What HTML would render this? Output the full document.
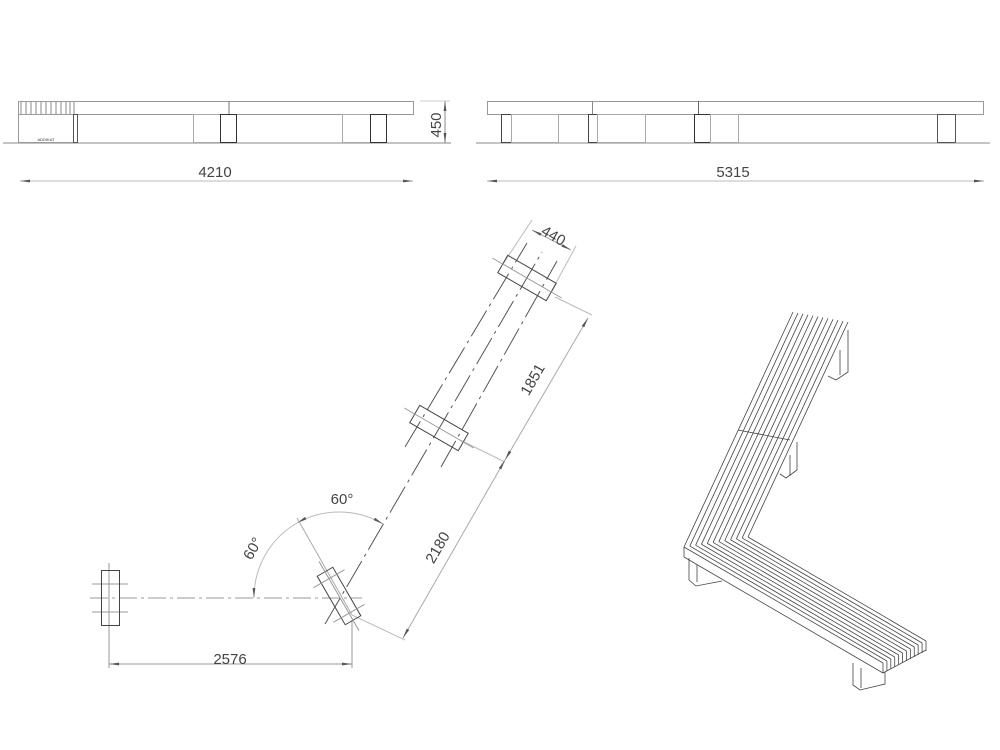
<!DOCTYPE html>
<html><head><meta charset="utf-8"><style>
html,body{margin:0;padding:0;background:#fff;}
svg{display:block;font-family:"Liberation Sans",sans-serif;}
</style></head><body>
<svg id="s" width="1000" height="750" viewBox="0 0 1000 750" xmlns="http://www.w3.org/2000/svg">
<defs>
<marker id="ar" viewBox="0 0 10 4" refX="10" refY="2" markerWidth="12" markerHeight="4" orient="auto-start-reverse" markerUnits="userSpaceOnUse"><path d="M0,0.6 L10,2 L0,3.4z" fill="#555"/></marker>
</defs>
<g fill="none" stroke-width="1">
<!-- LEFT ELEVATION -->
<line x1="3" y1="143" x2="451" y2="143" stroke="#888"/>
<rect x="18.5" y="101.5" width="395" height="13" stroke="#999"/>
<line x1="229" y1="101" x2="229" y2="114" stroke="#777"/>
<rect x="18.5" y="114.5" width="55" height="28" stroke="#999"/>
<rect x="73.5" y="114.5" width="4" height="28" stroke="#555"/>
<g stroke="#888"><line x1="21" y1="102" x2="21" y2="114"/><line x1="26" y1="102" x2="26" y2="114"/><line x1="31" y1="102" x2="31" y2="114"/><line x1="36" y1="102" x2="36" y2="114"/><line x1="41" y1="102" x2="41" y2="114"/><line x1="46" y1="102" x2="46" y2="114"/><line x1="51" y1="102" x2="51" y2="114"/><line x1="56" y1="102" x2="56" y2="114"/><line x1="61" y1="102" x2="61" y2="114"/><line x1="66" y1="102" x2="66" y2="114"/><line x1="70" y1="102" x2="70" y2="114"/><line x1="74" y1="102" x2="74" y2="114"/></g>
<text x="46" y="141" font-size="4" fill="#333" text-anchor="middle" stroke="none">ADDIKAT</text>
<rect x="193.5" y="114.5" width="27" height="28" stroke="#aaa"/>
<rect x="220.5" y="114.5" width="16" height="28" stroke="#333"/>
<rect x="342.5" y="114.5" width="28" height="28" stroke="#aaa"/>
<rect x="370.5" y="114.5" width="16" height="28" stroke="#333"/>
<line x1="445" y1="101" x2="445" y2="143" stroke="#888" marker-start="url(#ar)" marker-end="url(#ar)"/>
<line x1="420" y1="101" x2="450" y2="101" stroke="#ccc"/>
<line x1="20" y1="181" x2="413" y2="181" stroke="#bbb" marker-start="url(#ar)" marker-end="url(#ar)"/>
<!-- RIGHT ELEVATION -->
<line x1="476" y1="143" x2="990" y2="143" stroke="#888"/>
<rect x="487.5" y="101.5" width="496" height="13" stroke="#999"/>
<line x1="592.5" y1="101" x2="592.5" y2="114" stroke="#888"/>
<line x1="698.5" y1="101" x2="698.5" y2="114" stroke="#666"/>
<rect x="501.5" y="114.5" width="10" height="28" stroke="#444"/>
<rect x="511.5" y="114.5" width="47" height="28" stroke="#aaa"/>
<rect x="588.5" y="114.5" width="9" height="28" stroke="#444"/>
<rect x="597.5" y="114.5" width="48" height="28" stroke="#aaa"/>
<rect x="694.5" y="114.5" width="16" height="28" stroke="#333"/>
<rect x="710.5" y="114.5" width="28" height="28" stroke="#aaa"/>
<rect x="937.5" y="114.5" width="18" height="28" stroke="#555"/>
<line x1="487" y1="181" x2="984" y2="181" stroke="#bbb" marker-start="url(#ar)" marker-end="url(#ar)"/>
<!-- PLAN -->
<g stroke="#999">
<line x1="90" y1="598" x2="362" y2="598" stroke-dasharray="18,4,3,4"/>
<line x1="109" y1="563" x2="109" y2="668"/>
<line x1="92" y1="584" x2="128" y2="584"/><line x1="92" y1="612" x2="128" y2="612"/>
<line x1="352" y1="620" x2="352" y2="668"/>
<line x1="109" y1="664" x2="352" y2="664" stroke="#999" marker-start="url(#ar)" marker-end="url(#ar)"/>
<path d="M254,598 A86,86 0 0 1 297,523" stroke="#bbb" marker-start="url(#ar)"/>
<path d="M297,523 A86,86 0 0 1 383,524" stroke="#bbb" marker-start="url(#ar)" marker-end="url(#ar)"/>
<line x1="297" y1="518" x2="352" y2="615" stroke="#aaa"/>
<line x1="352" y1="615" x2="405" y2="640" stroke="#bbb"/>
<line x1="460" y1="440" x2="505" y2="462" stroke="#bbb"/>
<line x1="555" y1="297" x2="592" y2="315" stroke="#bbb"/>
<line x1="403" y1="638" x2="505" y2="460" stroke="#aaa" marker-start="url(#ar)" marker-end="url(#ar)"/>
<line x1="505" y1="460" x2="588" y2="318" stroke="#aaa" marker-start="url(#ar)" marker-end="url(#ar)"/>
<line x1="503" y1="264" x2="532" y2="220" stroke="#bbb"/>
<line x1="551" y1="292" x2="576" y2="246" stroke="#bbb"/>
<line x1="532" y1="230" x2="571" y2="250" stroke="#aaa" marker-start="url(#ar)" marker-end="url(#ar)"/>
</g>
<rect x="101.5" y="570.5" width="18" height="55" stroke="#444"/>
<g stroke="#555">
<line x1="325" y1="624" x2="542" y2="252" stroke-dasharray="30,5,3,5"/>
<line x1="405" y1="447" x2="527" y2="243" stroke-dasharray="30,5,3,5"/>
<line x1="441" y1="467" x2="557" y2="261" stroke-dasharray="30,5,3,5"/>
</g>
<g transform="translate(339,596) rotate(-30)" stroke="#444"><rect x="-9" y="-28" width="18" height="56"/><line x1="0" y1="-40" x2="0" y2="40" stroke="#999"/><line x1="-18" y1="-20" x2="18" y2="-20" stroke="#999"/><line x1="-18" y1="20" x2="18" y2="20" stroke="#999"/></g>
<g transform="translate(439,428) rotate(30)" stroke="#444"><rect x="-28" y="-10" width="56" height="20"/><line x1="-40" y1="0" x2="40" y2="0" stroke="#999"/></g>
<g transform="translate(527,278) rotate(30)" stroke="#444"><rect x="-28" y="-10" width="56" height="20"/><line x1="-40" y1="0" x2="40" y2="0" stroke="#999"/></g>
<!-- ISO -->
<g id="iso" stroke="#444" stroke-width="0.8"></g>
</g>
<g fill="#444" font-size="15">
<text x="215" y="177" text-anchor="middle">4210</text>
<text x="733" y="177" text-anchor="middle">5315</text>
<text transform="translate(441,125) rotate(-90)" text-anchor="middle">450</text>
<text x="230" y="664" text-anchor="middle">2576</text>
<text x="342" y="504" text-anchor="middle">60°</text>
<text transform="translate(257,551) rotate(-60)" text-anchor="middle">60°</text>
<text transform="translate(442,550) rotate(-60)" text-anchor="middle">2180</text>
<text transform="translate(537,382) rotate(-60)" text-anchor="middle">1851</text>
<text transform="translate(551,240) rotate(30)" text-anchor="middle">440</text>
</g>
</svg>
<script>
var g=document.getElementById('iso'),h='';
function L(a,b,c,d){h+='<line x1="'+a+'" y1="'+b+'" x2="'+c+'" y2="'+d+'"/>';}
var n=11;
for(var i=0;i<=n;i++){var k=i/n;
 L(793+55*k,312+10*k,684+64*k,547-10*k);}
L(738,430,790,440);
var A=[684,547],B=[748,537],C=[926,641],D=[883,663];
for(var i=0;i<=n;i++){var k=i/n;
 L(A[0]+(B[0]-A[0])*k,A[1]+(B[1]-A[1])*k,D[0]+(C[0]-D[0])*k,D[1]+(C[1]-D[1])*k);
 L(D[0]+(C[0]-D[0])*k,D[1]+(C[1]-D[1])*k,D[0]+(C[0]-D[0])*k,D[1]+(C[1]-D[1])*k+10);}
L(684,547,684,557);L(684,557,883,673);L(883,673,926,650);
h+='<path d="M689,558 L689,580 L696,586 L722,581"/><path d="M697,565 L697,582"/>';
h+='<path d="M853,663 L853,685 L860,690 L885,684 L885,672"/><path d="M861,668 L861,688"/>';
h+='<path d="M848,330 L848,372 L836,380 L828,376"/><path d="M840,350 L840,375"/>';
h+='<path d="M797,442 L797,470 L786,478 L780,474"/><path d="M790,455 L790,476"/>';
g.innerHTML=h;
</script>
</body></html>
